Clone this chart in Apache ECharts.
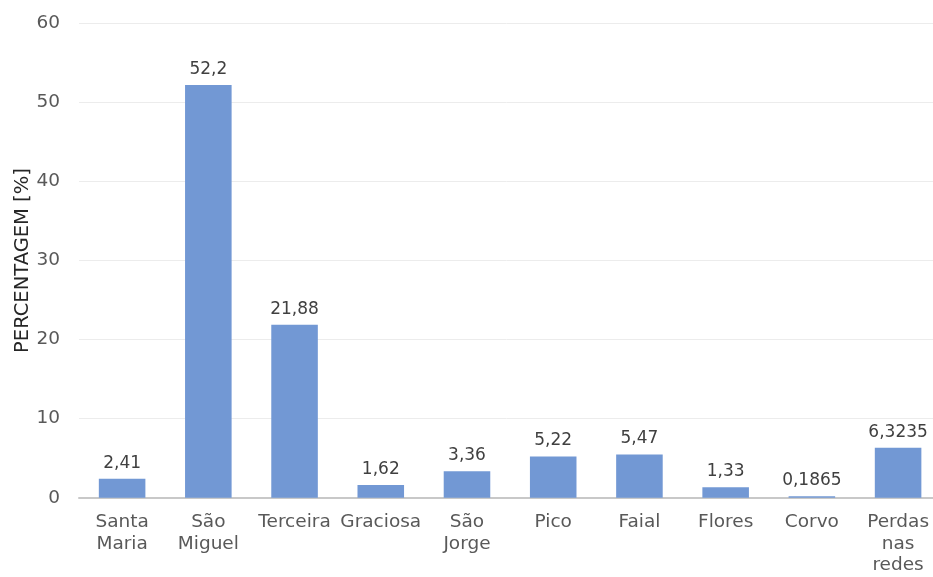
<!DOCTYPE html>
<html>
<head>
<meta charset="utf-8">
<script src="https://cdn.jsdelivr.net/npm/echarts@6/dist/echarts.min.js"></script>
<style>
  html, body { margin: 0; padding: 0; background: #ffffff; }
  #chart { width: 933px; height: 577px; }
</style>
</head>
<body>
<div id="chart"></div>
<script>
// Share of electricity per island (Azores), plus grid losses
const islands = ['Santa Maria', 'São Miguel', 'Terceira', 'Graciosa', 'São Jorge',
                 'Pico', 'Faial', 'Flores', 'Corvo', 'Perdas nas redes'];
const shares = [2.41, 52.2, 21.88, 1.62, 3.36, 5.22, 5.47, 1.33, 0.1865, 6.3235];
const yTicks = [0, 10, 20, 30, 40, 50, 60];
const yAxisTitle = 'PERCENTAGEM [%]';

const FONT = 'DejaVu Sans';
const toComma = v => String(v).replace('.', ',');

const chart = echarts.init(document.getElementById('chart'), null, { renderer: 'canvas' });
chart.setOption({
  animation: false,
  backgroundColor: '#ffffff',
  grid: {
    left: 79, top: 23.4, height: 474.3, width: 862.2,
    containLabel: false, outerBoundsMode: 'none'
  },
  xAxis: {
    type: 'category',
    data: islands,
    axisLine: { show: true, lineStyle: { color: '#c8c8c8', width: 2 } },
    axisTick: { show: false },
    axisLabel: {
      interval: 0,
      margin: 14,
      color: '#595959',
      fontFamily: FONT,
      fontSize: 18.5,
      lineHeight: 21.5,
      formatter: v => v.split(' ').join('\n')
    }
  },
  yAxis: {
    type: 'value',
    min: yTicks[0],
    max: yTicks[yTicks.length - 1],
    interval: yTicks[1] - yTicks[0],
    name: yAxisTitle,
    nameLocation: 'middle',
    nameGap: 46,
    nameMoveOverlap: false,
    nameTextStyle: { color: '#262626', fontFamily: FONT, fontSize: 19.5 },
    axisLine: { show: false },
    axisTick: { show: false },
    axisLabel: { margin: 19, color: '#595959', fontFamily: FONT, fontSize: 18.5 },
    splitLine: { lineStyle: { color: '#ececec', width: 1 } }
  },
  series: [{
    type: 'bar',
    data: shares,
    barWidth: '54%',
    itemStyle: { color: '#7298d4' },
    label: {
      show: true,
      position: 'top',
      distance: 7,
      color: '#404040',
      fontFamily: FONT,
      fontSize: 17,
      formatter: p => toComma(p.value)
    }
  }]
});
</script>
</body>
</html>
